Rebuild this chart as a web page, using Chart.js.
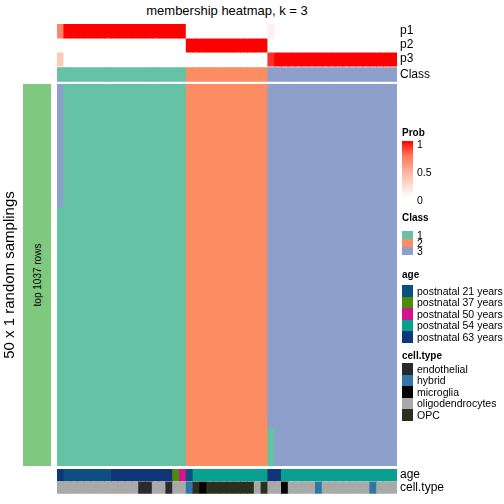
<!DOCTYPE html>
<html lang="pt-BR">
<head>
<meta charset="utf-8">
<title>membership heatmap, k = 3</title>
<script src="https://cdn.jsdelivr.net/npm/chart.js@4.4.1/dist/chart.umd.min.js"></script>
<style>
  html, body { margin: 0; padding: 0; background: #ffffff; }
  body {
    position: relative; width: 504px; height: 504px; overflow: hidden;
    font-family: "Liberation Sans", Arial, Helvetica, sans-serif; color: #000;
  }
  canvas { position: absolute; left: 0; top: 0; }
  #titulo { position: absolute; left: 57px; top: 3px; width: 340px; text-align: center; font-size: 13px; line-height: 15px; }
  #faixa { position: absolute; left: 23px; top: 84px; width: 28px; height: 382px; background: #7FC97F; }
  #faixa span { position: absolute; left: 50%; top: 50%; transform: translate(-50%, -50%) rotate(-90deg); font-size: 10px; white-space: nowrap; }
  #legenda div { position: absolute; font-size: 10.5px; line-height: 12px; white-space: nowrap; }
  #legenda .tit { font-weight: bold; font-size: 10px; }
</style>
</head>
<body>
<div id="titulo">membership heatmap, k = 3</div>
<div id="faixa"><span>top 1037 rows</span></div>
<canvas id="topo" width="504" height="504"></canvas>
<canvas id="mapa" width="504" height="504"></canvas>
<canvas id="base" width="504" height="504"></canvas>
<div id="legenda"></div>
<script>
// —————— DADOS ——————
const amostras = Array.from({ length: 50 }, (_, i) => 'amostra ' + (i + 1));

// classe final de cada amostra
const classeAmostra = [1,1,1,1,1,1,1,1,1,1, 1,1,1,1,1,1,1,1,1,
  2,2,2,2,2,2,2,2,2,2,2,2,
  3,3,3,3,3,3,3,3,3,3, 3,3,3,3,3,3,3,3,3];

// probabilidades de pertencer a cada classe
const probP1 = [0.68,1,1,1,1,1,1,1,1,1, 1,1,1,1,1,1,1,1,1,
  0,0,0,0,0,0,0,0,0,0,0,0,
  0.1,0,0,0,0,0,0,0,0,0, 0,0,0,0,0,0,0,0,0];
const probP2 = [0,0,0,0,0,0,0,0,0,0, 0,0,0,0,0,0,0,0,0,
  1,1,1,1,1,1,1,1,1,1,1,1,
  0,0,0,0,0,0,0,0,0,0, 0,0,0,0,0,0,0,0,0];
const probP3 = [0.32,0,0,0,0,0,0,0,0,0, 0,0,0,0,0,0,0,0,0,
  0,0,0,0,0,0,0,0,0,0,0,0,
  0.9,1,1,1,1,1,1,1,1,1, 1,1,1,1,1,1,1,1,1];

const idades = ['postnatal 21 years', 'postnatal 37 years', 'postnatal 50 years',
  'postnatal 54 years', 'postnatal 63 years'];
const idadeAmostra = [4, 0,0,0,0,0,0,0, 4,4,4,4,4,4,4,4,4, 1, 2, 0,
  3,3,3,3,3,3,3,3,3,3,3, 4,4,
  3,3,3,3,3,3,3,3,3,3,3,3,3,3,3,3,3];

const tiposCelula = ['endothelial', 'hybrid', 'microglia', 'oligodendrocytes', 'OPC'];
const tipoAmostra = [3,3,3,3,3,3,3,3,3,3,3,3, 0,0, 3,3, 0, 3,3, 1, 4, 2,
  4,4,4,4,4,4,4, 3, 4, 3,3, 2, 3,3,3,3, 1, 3,3,3,3,3,3,3, 1, 3,3,3];

// cada amostragem (linha do mapa): sequência de [classe, nº de colunas]
const amostragens = [
  [[3,1],[1,18],[2,12],[3,19]], [[3,1],[1,18],[2,12],[3,19]],
  [[3,1],[1,18],[2,12],[3,19]], [[3,1],[1,18],[2,12],[3,19]],
  [[3,1],[1,18],[2,12],[3,19]], [[3,1],[1,18],[2,12],[3,19]],
  [[3,1],[1,18],[2,12],[3,19]], [[3,1],[1,18],[2,12],[3,19]],
  [[3,1],[1,18],[2,12],[3,19]], [[3,1],[1,18],[2,12],[3,19]],
  [[3,1],[1,18],[2,12],[3,19]], [[3,1],[1,18],[2,12],[3,19]],
  [[3,1],[1,18],[2,12],[3,19]], [[3,1],[1,18],[2,12],[3,19]],
  [[3,1],[1,18],[2,12],[3,19]], [[3,1],[1,18],[2,12],[3,19]],
  [[1,19],[2,12],[3,19]], [[1,19],[2,12],[3,19]], [[1,19],[2,12],[3,19]],
  [[1,19],[2,12],[3,19]], [[1,19],[2,12],[3,19]], [[1,19],[2,12],[3,19]],
  [[1,19],[2,12],[3,19]], [[1,19],[2,12],[3,19]], [[1,19],[2,12],[3,19]],
  [[1,19],[2,12],[3,19]], [[1,19],[2,12],[3,19]], [[1,19],[2,12],[3,19]],
  [[1,19],[2,12],[3,19]], [[1,19],[2,12],[3,19]], [[1,19],[2,12],[3,19]],
  [[1,19],[2,12],[3,19]], [[1,19],[2,12],[3,19]], [[1,19],[2,12],[3,19]],
  [[1,19],[2,12],[3,19]], [[1,19],[2,12],[3,19]], [[1,19],[2,12],[3,19]],
  [[1,19],[2,12],[3,19]], [[1,19],[2,12],[3,19]], [[1,19],[2,12],[3,19]],
  [[1,19],[2,12],[3,19]], [[1,19],[2,12],[3,19]], [[1,19],[2,12],[3,19]],
  [[1,19],[2,12],[3,19]], [[1,19],[2,12],[3,19]],
  [[1,19],[2,12],[1,1],[3,18]], [[1,19],[2,12],[1,1],[3,18]],
  [[1,19],[2,12],[1,1],[3,18]], [[1,19],[2,12],[1,1],[3,18]],
  [[1,19],[2,12],[1,1],[3,18]]
];

// —————— CORES ——————
const corClasse = { 1: '#66C2A5', 2: '#FC8D62', 3: '#8DA0CB' };
const corIdade = ['#0D4F7F', '#4B8C0A', '#D4148C', '#0AA08F', '#0E3678'];
const corTipo = ['#2A292F', '#3276A8', '#000000', '#A9A9A8', '#2C2E20'];
const escalaProb = [[0, '#FFFFFF'], [0.25, '#FFD5C8'], [0.5, '#FFA891'], [0.75, '#FF7559'], [1, '#FF0000']];

function hexParaRgb(h) {
  return [1, 3, 5].map(i => parseInt(h.slice(i, i + 2), 16));
}

// Função para converter probabilidade em cor
function corProb(p) {
  for (let i = 1; i < escalaProb.length; i++) {
    const [p0, c0] = escalaProb[i - 1];
    const [p1, c1] = escalaProb[i];
    if (p <= p1) {
      const t = (p - p0) / (p1 - p0);
      const a = hexParaRgb(c0), b = hexParaRgb(c1);
      const rgb = a.map((v, k) => Math.round(v + (b[k] - v) * t));
      return `rgb(${rgb.join(',')})`;
    }
  }
  return escalaProb[escalaProb.length - 1][1];
}

// Função para montar uma faixa de barras flutuantes
function faixa(inicio, fim, cores) {
  return {
    data: amostras.map(() => [inicio, fim]),
    backgroundColor: cores,
    borderWidth: 0,
    grouped: false,
    barPercentage: 1,
    categoryPercentage: 1,
    inflateAmount: 0.4
  };
}

const fonte = { family: '"Liberation Sans", Arial, sans-serif', size: 12 };

function eixoNomes(nomes, limites, max) {
  return {
    type: 'linear', min: 0, max: max, reverse: true, position: 'right',
    grid: { display: false, drawTicks: false }, border: { display: false },
    afterBuildTicks: s => {
      s.ticks = limites.map(([a, b]) => ({ value: (a + b) / 2 }));
    },
    afterFit: s => { s.width = 107; },
    ticks: {
      autoSkip: false, padding: 3, color: '#000', font: fonte,
      callback: (v, i) => nomes[i]
    }
  };
}

const basico = {
  responsive: false,
  animation: false,
  events: [],
  plugins: { legend: { display: false }, tooltip: { enabled: false } }
};

// —————— ANOTAÇÃO SUPERIOR ——————
const nomesTopo = ['p1', 'p2', 'p3', 'Class'];
const limitesTopo = [[0, 1], [1, 2], [2, 3], [3.1, 4.1]];
const coresTopo = [
  probP1.map(corProb),
  probP2.map(corProb),
  probP3.map(corProb),
  classeAmostra.map(c => corClasse[c])
];

new Chart(document.getElementById('topo'), {
  type: 'bar',
  data: {
    labels: amostras,
    datasets: nomesTopo.map((n, i) => faixa(limitesTopo[i][0], limitesTopo[i][1], coresTopo[i]))
  },
  options: {
    ...basico,
    layout: { padding: { left: 57, right: 0, top: 24, bottom: 504 - 81.7 } },
    scales: {
      x: { display: false },
      y: eixoNomes(nomesTopo, limitesTopo, 4.1)
    }
  }
});

// —————— MAPA DE AMOSTRAGENS ——————
const linhasMapa = amostragens.map(runs => {
  const cols = [];
  runs.forEach(([classe, n]) => { for (let k = 0; k < n; k++) cols.push(classe); });
  return cols;
});

new Chart(document.getElementById('mapa'), {
  type: 'bar',
  data: {
    labels: amostras,
    datasets: linhasMapa.map((cols, r) => faixa(r, r + 1, cols.map(c => corClasse[c])))
  },
  options: {
    ...basico,
    layout: { padding: { left: 0, right: 107, top: 84, bottom: 38 } },
    scales: {
      x: { display: false },
      y: {
        type: 'linear', min: 0, max: amostragens.length, reverse: true, position: 'left',
        grid: { display: false, drawTicks: false }, border: { display: false },
        ticks: { display: false },
        afterFit: s => { s.width = 57; },
        title: {
          display: true, text: '50 x 1 random samplings', color: '#000',
          font: { family: fonte.family, size: 15 }, padding: { top: 1, bottom: 0 }
        }
      }
    }
  }
});

// —————— ANOTAÇÃO INFERIOR ——————
const nomesBase = ['age', 'cell.type'];
const limitesBase = [[0, 1], [1.1, 2.1]];

new Chart(document.getElementById('base'), {
  type: 'bar',
  data: {
    labels: amostras,
    datasets: [
      faixa(0, 1, idadeAmostra.map(i => corIdade[i])),
      faixa(1.1, 2.1, tipoAmostra.map(i => corTipo[i]))
    ]
  },
  options: {
    ...basico,
    layout: { padding: { left: 57, right: 0, top: 469, bottom: 5 } },
    scales: {
      x: { display: false },
      y: eixoNomes(nomesBase, limitesBase, 2.1)
    }
  }
});

// —————— LEGENDAS ——————
const leg = document.getElementById('legenda');
function caixa(css, texto, classe) {
  const d = document.createElement('div');
  if (classe) d.className = classe;
  Object.assign(d.style, css);
  if (texto !== undefined) d.textContent = texto;
  leg.appendChild(d);
  return d;
}

const xLeg = 402, xTxt = 417;
// Prob
caixa({ left: xLeg + 'px', top: '127px' }, 'Prob', 'tit');
caixa({
  left: xLeg + 'px', top: '141px', width: '11px', height: '56px',
  background: 'linear-gradient(to top, ' + escalaProb.map(([p, c]) => c + ' ' + (p * 100) + '%').join(', ') + ')'
});
[1, 0.5, 0].forEach(p => {
  caixa({ left: xTxt + 'px', top: (141 + (1 - p) * 56 - 3) + 'px' }, String(p));
});

// grupos discretos
function grupo(titulo, yTitulo, yCaixa, altura, nomes, cores) {
  caixa({ left: xLeg + 'px', top: yTitulo + 'px' }, titulo, 'tit');
  nomes.forEach((n, i) => {
    const y = yCaixa + i * altura;
    caixa({ left: xLeg + 'px', top: y + 'px', width: '11px', height: altura + 'px', background: cores[i] });
    caixa({ left: xTxt + 'px', top: (y + altura / 2 - 6) + 'px' }, n);
  });
}
grupo('Class', 212, 231, 8, ['1', '2', '3'], [corClasse[1], corClasse[2], corClasse[3]]);
grupo('age', 269, 285, 11.5, idades, corIdade);
grupo('cell.type', 350, 363, 11.5, tiposCelula, corTipo);
</script>
</body>
</html>
